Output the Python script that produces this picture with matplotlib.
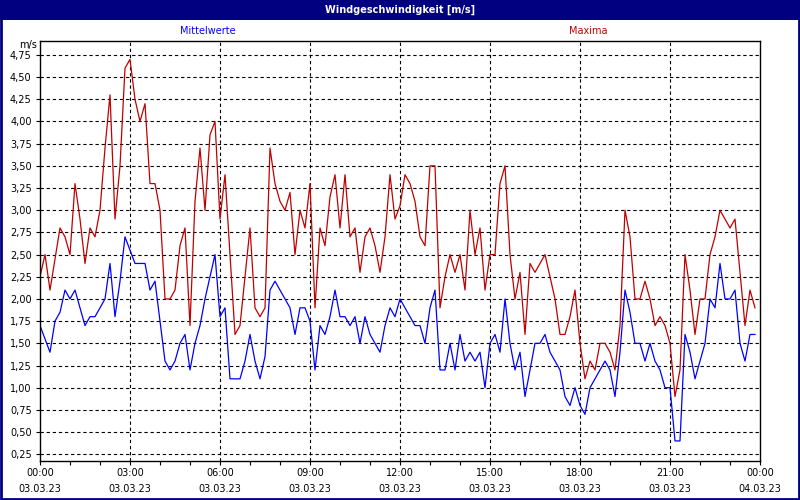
import matplotlib
matplotlib.use("Agg")
import matplotlib.pyplot as plt
from matplotlib.patches import Rectangle
import numpy as np

# 10-minute values, 03.03.23 00:00 .. 23:50
mittel = [1.70, 1.55, 1.40, 1.75, 1.85, 2.10, 2.00, 2.10, 1.90, 1.70,
          1.80, 1.80, 1.90, 2.00, 2.40, 1.80, 2.20, 2.70, 2.55, 2.40,
          2.40, 2.40, 2.10, 2.20, 1.75, 1.30, 1.20, 1.30, 1.50, 1.60,
          1.20, 1.50, 1.70, 2.00, 2.25, 2.50, 1.80, 1.90, 1.10, 1.10,
          1.10, 1.30, 1.60, 1.30, 1.10, 1.35, 2.10, 2.20, 2.10, 2.00,
          1.90, 1.60, 1.90, 1.90, 1.75, 1.20, 1.70, 1.60, 1.80, 2.10,
          1.80, 1.80, 1.70, 1.80, 1.50, 1.80, 1.60, 1.50, 1.40, 1.70,
          1.90, 1.80, 2.00, 1.90, 1.80, 1.70, 1.70, 1.50, 1.90, 2.10,
          1.20, 1.20, 1.50, 1.20, 1.60, 1.30, 1.40, 1.30, 1.40, 1.00,
          1.50, 1.60, 1.40, 2.00, 1.50, 1.20, 1.40, 0.90, 1.20, 1.50,
          1.50, 1.60, 1.40, 1.30, 1.20, 0.90, 0.80, 1.00, 0.80, 0.70,
          1.00, 1.10, 1.20, 1.30, 1.20, 0.90, 1.40, 2.10, 1.85, 1.50,
          1.50, 1.30, 1.50, 1.30, 1.20, 1.00, 1.00, 0.40, 0.40, 1.60,
          1.40, 1.10, 1.30, 1.50, 2.00, 1.90, 2.40, 2.00, 2.00, 2.10,
          1.50, 1.30, 1.60, 1.60]

maxima = [2.25, 2.50, 2.10, 2.45, 2.80, 2.70, 2.50, 3.30, 2.90, 2.40,
          2.80, 2.70, 3.00, 3.70, 4.30, 2.90, 3.50, 4.60, 4.70, 4.25,
          4.00, 4.20, 3.30, 3.30, 3.00, 2.00, 2.00, 2.10, 2.60, 2.80,
          1.70, 3.10, 3.70, 3.00, 3.85, 4.00, 2.90, 3.40, 2.50, 1.60,
          1.70, 2.25, 2.80, 1.90, 1.80, 1.90, 3.70, 3.30, 3.10, 3.00,
          3.20, 2.50, 3.00, 2.80, 3.30, 1.90, 2.80, 2.60, 3.15, 3.40,
          2.80, 3.40, 2.70, 2.80, 2.30, 2.70, 2.80, 2.60, 2.30, 2.70,
          3.40, 2.90, 3.05, 3.40, 3.30, 3.10, 2.70, 2.60, 3.50, 3.50,
          1.90, 2.25, 2.50, 2.30, 2.50, 2.10, 3.00, 2.50, 2.80, 2.10,
          2.50, 2.50, 3.30, 3.50, 2.50, 2.00, 2.30, 1.60, 2.40, 2.30,
          2.40, 2.50, 2.25, 2.00, 1.60, 1.60, 1.80, 2.10, 1.50, 1.10,
          1.30, 1.20, 1.50, 1.50, 1.40, 1.20, 1.70, 3.00, 2.70, 2.00,
          2.00, 2.20, 2.00, 1.70, 1.80, 1.70, 1.50, 0.90, 1.20, 2.50,
          2.10, 1.60, 2.00, 2.00, 2.50, 2.70, 3.00, 2.90, 2.80, 2.90,
          2.30, 1.70, 2.10, 1.90]

hours = np.arange(len(mittel)) / 6.0

x_ticks = [0, 3, 6, 9, 12, 15, 18, 21, 24]
x_labels = ["00:00\n03.03.23", "03:00\n03.03.23", "06:00\n03.03.23",
            "09:00\n03.03.23", "12:00\n03.03.23", "15:00\n03.03.23",
            "18:00\n03.03.23", "21:00\n03.03.23", "00:00\n04.03.23"]
y_ticks = [0.25, 0.50, 0.75, 1.00, 1.25, 1.50, 1.75, 2.00, 2.25, 2.50,
           2.75, 3.00, 3.25, 3.50, 3.75, 4.00, 4.25, 4.50, 4.75]

navy = "#000080"
fs = 7

fig = plt.figure(figsize=(8, 5), dpi=100)
fig.patch.set_facecolor("white")

# title bar + frame
fig.patches.append(Rectangle((0, 1 - 20 / 500), 1, 20 / 500, transform=fig.transFigure,
                             facecolor=navy, edgecolor="none", zorder=0))
fig.patches.append(Rectangle((0.001, 0.002), 0.998, 0.996, transform=fig.transFigure,
                             facecolor="none", edgecolor=navy, linewidth=2, zorder=5))
fig.text(0.5, 1 - 10 / 500, "Windgeschwindigkeit [m/s]", color="white",
         fontsize=7, fontweight="bold", ha="center", va="center")
fig.text(208 / 800, 1 - 31 / 500, "Mittelwerte", color="#0000ff", fontsize=fs,
         ha="center", va="center")
fig.text(588 / 800, 1 - 31 / 500, "Maxima", color="#c00000", fontsize=fs,
         ha="center", va="center")
fig.text(37 / 800, 1 - 45 / 500, "m/s", color="black", fontsize=fs,
         ha="right", va="center")

ax = fig.add_axes([40 / 800, 1 - 461 / 500, 720 / 800, (461 - 40.7) / 500])
ax.plot(hours, maxima, color="#c00000", linewidth=0.9)
ax.plot(hours, mittel, color="#0000ff", linewidth=0.9)

ax.set_xlim(0, 24)
ax.set_ylim(0.174, 4.91)
ax.set_xticks(x_ticks)
ax.set_xticklabels(x_labels, fontsize=fs, linespacing=1.8)
ax.set_xticks(range(0, 25), minor=True)
ax.set_yticks(y_ticks)
ax.set_yticklabels([("%.2f" % v).replace(".", ",") for v in y_ticks], fontsize=fs)
ax.tick_params(axis="both", which="both", direction="out", length=3, width=0.8, pad=3)
ax.tick_params(axis="x", which="major", pad=2)

for v in y_ticks:
    ax.axhline(v, color="black", linewidth=0.8, linestyle=(0, (3, 2.5)), zorder=1)
for h in x_ticks[1:-1]:
    ax.axvline(h, color="black", linewidth=0.8, linestyle=(0, (3, 2.5)), zorder=1)

for s in ax.spines.values():
    s.set_linewidth(1)
    s.set_color("black")

fig.savefig("out.png", dpi=100)
